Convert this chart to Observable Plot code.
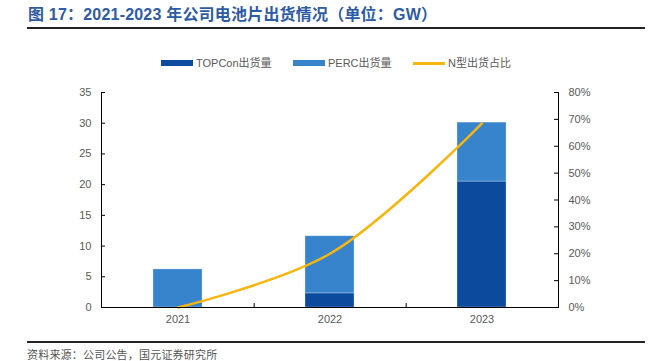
<!DOCTYPE html>
<html><head><meta charset="utf-8">
<script src="https://cdn.jsdelivr.net/npm/d3@7"></script>
<script src="https://cdn.jsdelivr.net/npm/@observablehq/plot@0.6"></script>
<style>
body{margin:0;background:#fff;}
#wrap{position:relative;width:663px;height:361px;overflow:hidden;font-family:"Liberation Sans",Arial,"Noto Sans CJK SC",sans-serif;}
#title{position:absolute;left:28px;top:5px;font-size:16px;font-weight:bold;color:#2E5BA5;line-height:20px;white-space:nowrap;letter-spacing:0.2px;font-family:"Liberation Sans",Arial,"Noto Sans CJK SC",sans-serif;}
.rule{position:absolute;left:27px;width:618px;height:2px;background:#222;}
#legend{position:absolute;left:0;top:56px;width:663px;height:14px;font-size:11px;color:#595959;}
.li{position:absolute;top:0;height:14px;line-height:14px;white-space:nowrap;}
.sw{position:absolute;}
#source{position:absolute;left:27px;top:347px;font-size:11px;letter-spacing:0.2px;color:#555;font-family:"Noto Sans CJK SC",sans-serif;line-height:14px;}
#chart{position:absolute;left:0;top:80px;}
</style>
</head><body>
<div id="wrap">
  <div id="title">图 17：2021-2023 年公司电池片出货情况（单位：GW）</div>
  <div class="rule" style="top:27px"></div>
  <div id="legend"></div>
  <div id="chart"></div>
  <div class="rule" style="top:341px"></div>
  <div id="source">资料来源：公司公告，国元证券研究所</div>
</div>
<script>
const years = ["2021", "2022", "2023"];
const seriesNames = ["TOPCon出货量", "PERC出货量"];
const lineName = "N型出货占比";
const topcon = [0, 2.3, 20.5];
const perc = [6.2, 9.3, 9.6];
const nShare = [0, 20, 68.5];
const leftTicks = [0, 5, 10, 15, 20, 25, 30, 35];
const rightTicks = [0, 10, 20, 30, 40, 50, 60, 70, 80];

const dark = "#0C4A9E", light = "#3784CD", gold = "#F7B50D";
const yMax = 35, pMax = 80;
const toY = p => p * yMax / pMax;

const rows = [];
years.forEach((y, i) => {
  rows.push({year: y, type: seriesNames[0], value: topcon[i]});
  rows.push({year: y, type: seriesNames[1], value: perc[i]});
});
const lineRows = years.map((y, i) => ({year: y, share: nShare[i]}));

const W = 663, H = 255, ML = 101, MR = 105, MT = 12, MB = 28;
const plotW = W - ML - MR;
const step = plotW / years.length;
const plotH = H - MT - MB;

const chart = Plot.plot({
  width: W, height: H,
  marginLeft: ML, marginRight: MR, marginTop: MT, marginBottom: MB,
  style: {fontFamily: "'Liberation Sans', Arial, sans-serif", fontSize: "11px", color: "#000", background: "transparent", overflow: "visible"},
  x: {type: "band", domain: years, paddingInner: 0.68, paddingOuter: 0.34, label: null},
  y: {domain: [0, yMax], label: null},
  color: {domain: seriesNames, range: [dark, light]},
  marks: [
    Plot.barY(rows, {x: "year", y: "value", fill: "type", stroke: "#fff", strokeOpacity: 0.35, strokeWidth: 0.8}),
    Plot.line(lineRows, {x: "year", y: d => toY(d.share), stroke: gold, strokeWidth: 2.5, curve: "catmull-rom"}),
    Plot.ruleY([0], {stroke: "#000", strokeWidth: 1.2}),
    Plot.frame({anchor: "left", stroke: "#000"}),
    Plot.frame({anchor: "right", stroke: "#000"}),
    Plot.ruleY(leftTicks, {y: d => d, insetRight: plotW - 4, stroke: "#000"}),
    Plot.ruleY(rightTicks.map(toY), {y: d => d, insetLeft: plotW - 4, stroke: "#000"}),
    Plot.ruleX(years.slice(0, -1), {x: d => d, y1: 0, y2: 4 * yMax / plotH, dx: step / 2, stroke: "#000"}),
    Plot.axisY(leftTicks, {anchor: "left", tickSize: 0, tickPadding: 10, fill: "#595959", label: null}),
    Plot.axisY(rightTicks.map(toY), {anchor: "right", tickSize: 0, tickPadding: 10, fill: "#595959", label: null,
      tickFormat: d => Math.round(d * pMax / yMax) + "%"}),
    Plot.axisX(years, {tickSize: 0, tickPadding: 8, fill: "#595959", label: null})
  ]
});
document.getElementById("chart").appendChild(chart);

// legend
const legend = document.getElementById("legend");
const items = [
  {name: seriesNames[0], color: dark, kind: "bar", x: 161},
  {name: seriesNames[1], color: light, kind: "bar", x: 293},
  {name: lineName, color: gold, kind: "line", x: 413}
];
items.forEach(it => {
  const d = document.createElement("div");
  d.className = "li";
  d.style.left = it.x + "px";
  const sw = document.createElement("div");
  sw.className = "sw";
  sw.style.left = "0px";
  sw.style.width = "32px";
  sw.style.background = it.color;
  if (it.kind === "bar") { sw.style.top = "4px"; sw.style.height = "6px"; }
  else { sw.style.top = "6px"; sw.style.height = "2.5px"; }
  d.appendChild(sw);
  const t = document.createElement("span");
  t.textContent = it.name;
  t.style.position = "absolute";
  t.style.left = "35px";
  d.appendChild(t);
  legend.appendChild(d);
});
</script>
</body></html>
